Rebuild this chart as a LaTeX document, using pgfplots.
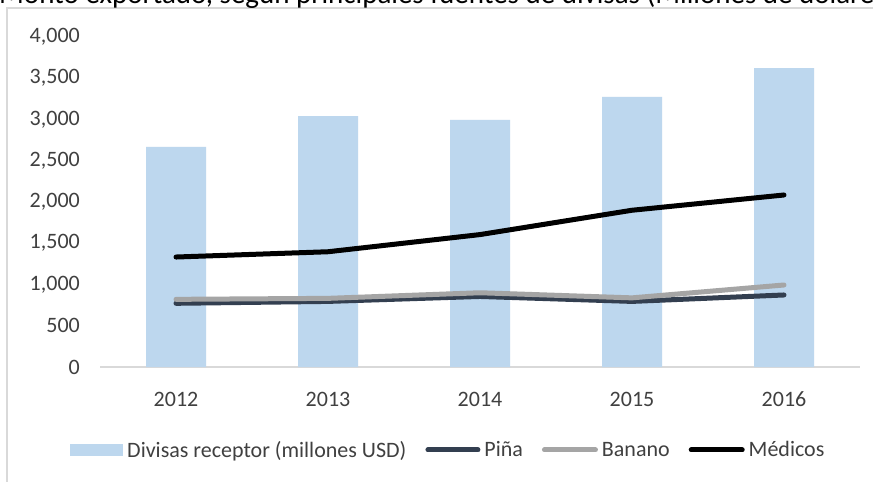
\documentclass[border=0pt]{standalone}
\usepackage{fontspec}
\setmainfont{Carlito}
\usepackage{pgfplots}
\pgfplotsset{compat=1.18}
\definecolor{barblue}{HTML}{BDD7EE}
\definecolor{pina}{HTML}{333F50}
\definecolor{banano}{HTML}{A5A5A5}
\definecolor{frame}{HTML}{D9D9D9}
\definecolor{txt}{HTML}{404040}
\begin{document}
\begin{tikzpicture}
\clip (0pt,0pt) rectangle (873pt,482pt);
\fill[white] (0pt,0pt) rectangle (873pt,482pt);
\draw[frame, line width=1.5pt] (7pt,-5pt) -- (7pt,474pt) -- (880pt,474pt);
\node[anchor=base west, inner sep=0pt, font=\fontsize{29}{33}\selectfont] at (-1pt,478.5pt)
  {Monto exportado, según principales fuentes de divisas (Millones de dólares)};
\begin{axis}[
  at={(100pt,115pt)}, anchor=south west,
  scale only axis, width=760pt, height=330pt,
  xmin=-0.5, xmax=4.5, ymin=0, ymax=4000,
  axis x line*=bottom, axis y line*=left,
  x axis line style={frame, line width=1.2pt, -},
  y axis line style={draw=none},
  xtick={0,1,2,3,4}, xticklabels={2012,2013,2014,2015,2016},
  ytick={0,500,...,4000},
  major tick length=0pt,
  /pgf/number format/.cd, 1000 sep={,}, assume math mode=true, /pgfplots/.cd,
  tick label style={font=\fontsize{22}{26}\selectfont, text=txt, inner sep=0pt},
  xticklabel style={anchor=north, yshift=-25pt, text height=14pt, text depth=0pt},
  yticklabel style={anchor=east, xshift=-20pt},
  clip=false,
  legend style={at={(0.457,-0.2515)}, anchor=center, draw=none, fill=none,
    font=\fontsize{22}{26}\selectfont, text=txt, legend columns=4,
    nodes={inner sep=0pt},
    /tikz/every odd column/.append style={column sep=4pt},
    /tikz/every even column/.append style={column sep=19pt}},
]
\addplot[ybar, bar width=60pt, fill=barblue, draw=none,
  legend image code/.code={\fill[barblue] (0pt,-6pt) rectangle (53pt,6pt);}]
  coordinates {(0,2667) (1,3042) (2,2994) (3,3273) (4,3624)};
\addlegendentry{Divisas receptor (millones USD)}
\addplot[pina, line width=5pt, line cap=round, line join=round,
  legend image code/.code={\draw[pina, line width=5pt, line cap=round] (2.5pt,0) -- (52.5pt,0);}]
  coordinates {(0,772) (1,795) (2,855) (3,795) (4,873)};
\addlegendentry{Piña}
\addplot[banano, line width=5pt, line cap=round, line join=round,
  legend image code/.code={\draw[banano, line width=5pt, line cap=round] (2.5pt,0) -- (53.5pt,0);}]
  coordinates {(0,820) (1,832) (2,900) (3,838) (4,994)};
\addlegendentry{Banano}
\addplot[black, line width=5pt, line cap=round, line join=round,
  legend image code/.code={\draw[black, line width=5pt, line cap=round] (2.5pt,0) -- (53.5pt,0);}]
  coordinates {(0,1333) (1,1397) (2,1605) (3,1900) (4,2085)};
\addlegendentry{Médicos}
\end{axis}
\end{tikzpicture}
\end{document}
